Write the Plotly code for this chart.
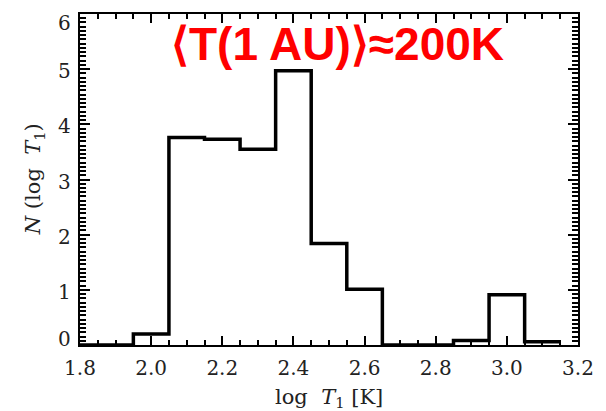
import plotly.graph_objects as go

# Histogram data (bin centres, bin width 0.1 in log T1)
bin_centers = [1.9, 2.0, 2.1, 2.2, 2.3, 2.4, 2.5, 2.6, 2.7, 2.8, 2.9, 3.0, 3.1]
counts = [0.0, 0.2, 3.76, 3.73, 3.55, 4.97, 1.84, 1.01, 0.0, 0.0, 0.08, 0.91, 0.06]
bin_width = 0.1

x_ticks = [1.8, 2.0, 2.2, 2.4, 2.6, 2.8, 3.0, 3.2]
x_ticklabels = ["1.8", "2.0", "2.2", "2.4", "2.6", "2.8", "3.0", "3.2"]
y_ticks = [0, 1, 2, 3, 4, 5, 6]
y_ticklabels = ["0", "1", "2", "3", "4", "5", "6"]

label_text = "⟨T(1 AU)⟩≈200K"

# step outline from bin edges
edges = [c - bin_width / 2 for c in bin_centers] + [bin_centers[-1] + bin_width / 2]
step_x = [1.8] + edges
step_y = [0.0] + counts + [counts[-1]]

fig = go.Figure()
fig.add_trace(go.Scatter(
    x=step_x, y=step_y, mode="lines",
    line=dict(color="black", width=3.5, shape="hv"),
    showlegend=False, hoverinfo="skip",
))

tickfont = dict(family="DejaVu Serif", size=20, color="#222")

fig.update_layout(
    width=606, height=411,
    margin=dict(l=80, r=27, t=12, b=65.5),
    paper_bgcolor="white", plot_bgcolor="white",
    xaxis=dict(
        range=[1.8, 3.2], tickvals=x_ticks, ticktext=x_ticklabels,
        showline=True, linecolor="black", linewidth=2, mirror="allticks",
        ticks="inside", ticklen=9, tickwidth=1.5, tickcolor="black",
        showgrid=False, zeroline=False, tickfont=tickfont,
        ticklabelstandoff=4,
        minor=dict(ticks="inside", ticklen=5, tickwidth=1.5, dtick=0.05, tick0=1.8,
                   tickcolor="black", showgrid=False),
    ),
    yaxis=dict(
        range=[0, 6], tickvals=y_ticks, showticklabels=False,
        showline=True, linecolor="black", linewidth=2, mirror="allticks",
        ticks="inside", ticklen=10, tickwidth=1.5, tickcolor="black",
        showgrid=False, zeroline=False,
        minor=dict(ticks="inside", ticklen=6, tickwidth=1.5, dtick=1/13, tick0=0,
                   tickcolor="black", showgrid=False),
    ),
)

# y tick labels (end labels pulled inside, as in the original)
shifts = {0: 6, 6: -9}
for v, t in zip(y_ticks, y_ticklabels):
    fig.add_annotation(
        text=t, xref="paper", yref="y", x=0, y=v, xanchor="right", yanchor="middle",
        xshift=-7, yshift=shifts.get(v, -2), showarrow=False, font=tickfont,
    )

fig.add_annotation(
    text="log  <i>T</i><sub>1</sub> [K]", xref="paper", yref="paper",
    x=0.5, y=-0.16, xanchor="center", yanchor="middle", showarrow=False,
    font=dict(family="DejaVu Serif", size=21, color="#222"),
)
fig.add_annotation(
    text="<i>N</i> (log  <i>T</i><sub>1</sub>)", xref="paper", yref="paper",
    x=-0.093, y=0.5, xanchor="center", yanchor="middle", showarrow=False, textangle=-90,
    font=dict(family="DejaVu Serif", size=21, color="#222"),
)
fig.add_annotation(
    text="<b>" + label_text + "</b>", xref="paper", yref="paper",
    x=0.517, y=0.91, xanchor="center", yanchor="middle", showarrow=False,
    font=dict(family="Liberation Sans", size=46, color="#ff0000"),
)

fig.write_html("out.html")
